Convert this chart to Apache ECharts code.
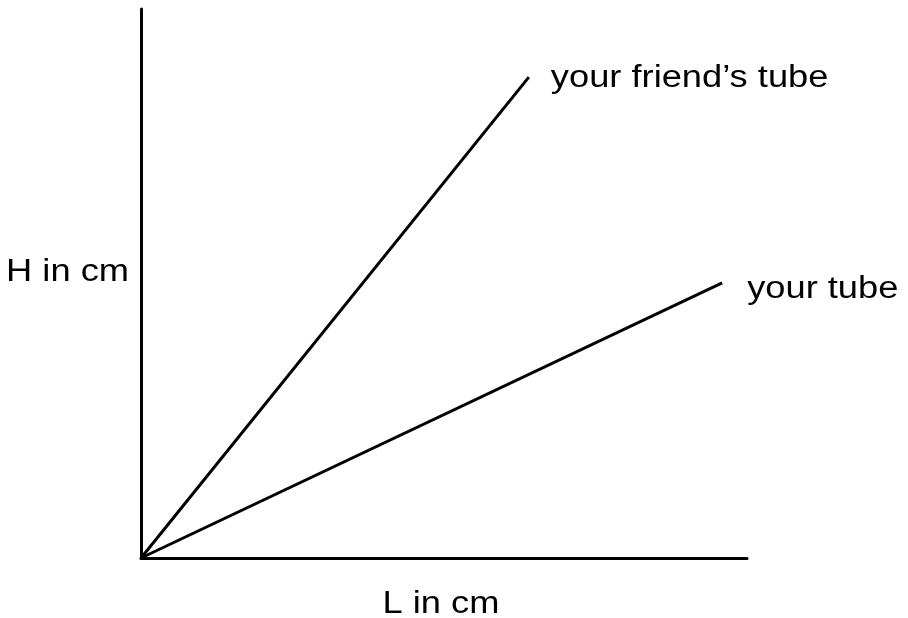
<!DOCTYPE html>
<html>
<head>
<meta charset="utf-8">
<script src="https://cdn.jsdelivr.net/npm/echarts@6/dist/echarts.min.js"></script>
<style>
html,body{margin:0;padding:0;background:#fff;}
#main{width:908px;height:618px;}
</style>
</head>
<body>
<div id="main"></div>
<script>
// line end points (axes 0..10)
var friendTube = [[0, 0], [6.40, 8.76]];
var yourTube = [[0, 0], [9.59, 5.01]];
var seriesNames = ['your friend\u2019s tube', 'your tube'];
var xName = 'L in cm';
var yName = 'H in cm';

var myChart = echarts.init(document.getElementById('main'));

var font = 'Liberation Sans, Arial, sans-serif';
var fontSize = 31;
var stretch = 1.17; // reference text is a bit wider than Arial

function makeLine(name, data) {
	return {
		name: name,
		type: 'line',
		data: data,
		symbol: 'none',
		silent: true,
		lineStyle: {color: '#000', width: 3}
	};
}

var axisStyle = {
	type: 'value',
	min: 0,
	max: 10,
	axisLine: {show: true, lineStyle: {color: '#000', width: 3}},
	axisTick: {show: false},
	axisLabel: {show: false},
	splitLine: {show: false}
};

var option = {
	animation: false,
	backgroundColor: '#fff',
	grid: {left: 141, right: 161, top: 9, bottom: 60, outerBoundsMode: 'none', containLabel: false},
	xAxis: Object.assign({}, axisStyle),
	yAxis: Object.assign({}, axisStyle),
	series: [
		makeLine(seriesNames[0], friendTube),
		makeLine(seriesNames[1], yourTube)
	]
};

myChart.setOption(option);

// texts placed from the chart's own scales
function label(text, pos, align) {
	return {
		type: 'text',
		x: pos[0],
		y: pos[1],
		scaleX: stretch,
		silent: true,
		style: {
			text: text,
			x: 0,
			y: 0,
			fill: '#000',
			font: fontSize + 'px ' + font,
			textAlign: align,
			textVerticalAlign: 'middle'
		}
	};
}

var friendEnd = myChart.convertToPixel({gridIndex: 0}, friendTube[friendTube.length - 1]);
var yourEnd = myChart.convertToPixel({gridIndex: 0}, yourTube[yourTube.length - 1]);
var origin = myChart.convertToPixel({gridIndex: 0}, [0, 0]);
var yMid = myChart.convertToPixel({gridIndex: 0}, [0, 5]);
var xMid = myChart.convertToPixel({gridIndex: 0}, [5, 0]);

myChart.setOption({
	graphic: [
		label(seriesNames[0], [friendEnd[0] + 22, friendEnd[1] + 1], 'left'),
		label(seriesNames[1], [yourEnd[0] + 25, yourEnd[1] + 7], 'left'),
		label(yName, [origin[0] - 12, yMid[1] - 11], 'right'),
		label(xName, [xMid[0] - 3, origin[1] + 46], 'center')
	]
});
</script>
</body>
</html>
